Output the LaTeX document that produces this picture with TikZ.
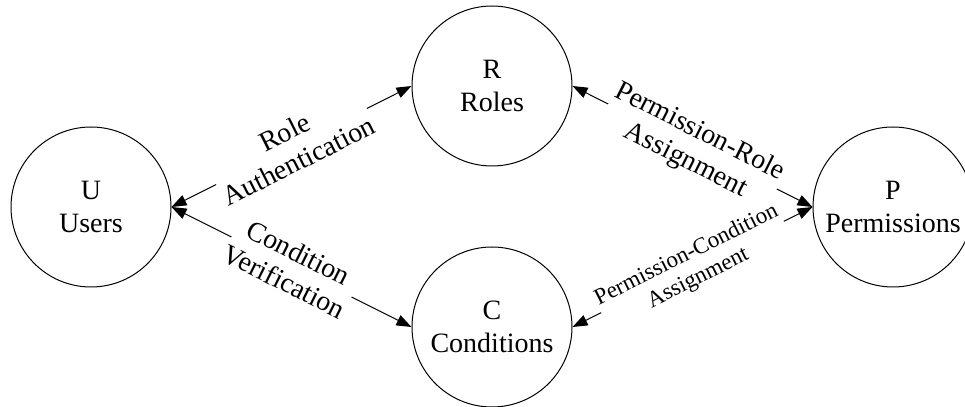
\documentclass[tikz,border=0pt]{standalone}
\usepackage{fontspec}
\setmainfont{Liberation Serif}
\usetikzlibrary{arrows.meta}
\tikzset{
  entity/.style={circle,draw,line width=0.5pt,minimum size=80pt,inner sep=0pt,align=center,font=\fontsize{14}{16.5}\selectfont},
  link/.style={<->,line width=0.5pt},
  linklabel/.style={midway,sloped,fill=white,inner sep=0.5pt,align=center,font=\fontsize{14}{16}\selectfont},
  smalllabel/.style={linklabel,font=\fontsize{11.5}{13}\selectfont}
}
\begin{document}
\begin{tikzpicture}[line cap=round,line join=round,>={Triangle[length=7.5pt,width=5.5pt]},x=0.5pt,y=0.5pt]
		\useasboundingbox (0,0) rectangle (965,407);
		% entities
		\node[entity] (U) at (91,200) {U\\Users};
		\node[entity] (R) at (492,321) {R\\Roles};
		\node[entity] (C) at (492,80) {C\\Conditions};
		\node[entity] (P) at (893,200) {P\\Permissions};
		% relations
		\draw[link] (U.east) -- (R.west) node[linklabel] {Role\\Authentication};
		\draw[link] (U.east) -- (C.west) node[linklabel] {Condition\\Verification};
		\draw[link] (R.east) -- (P.west) node[linklabel] {Permission-Role\\Assignment};
		\draw[link] (C.east) -- (P.west) node[smalllabel] {Permission-Condition\\Assignment};
	\end{tikzpicture}
\end{document}
